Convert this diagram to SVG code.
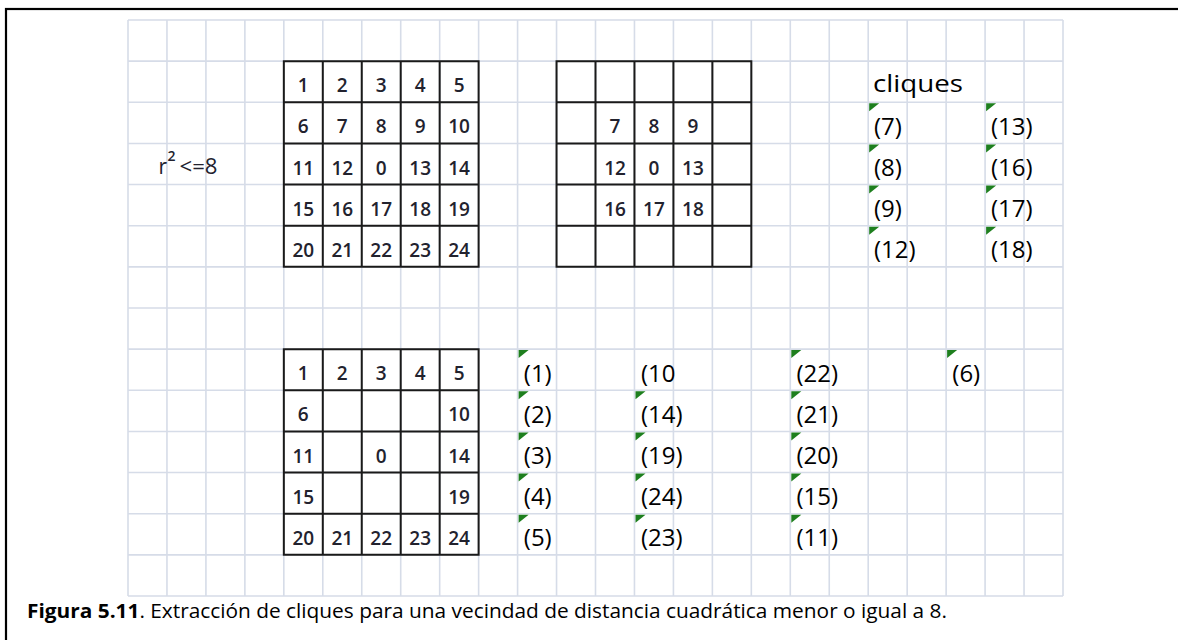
<svg xmlns="http://www.w3.org/2000/svg" xmlns:xlink="http://www.w3.org/1999/xlink" width="1178" height="640" viewBox="0 0 1178 640">
<style>
.frame{fill:none;stroke:#000;stroke-width:2.2}
.g{fill:none;stroke:#D6DCE8;stroke-width:1.6}
.b{fill:none;stroke:#1a1a1a;stroke-width:2}
.n{font-family:"Open Sans","Noto Sans",sans-serif;font-size:19px;font-weight:600;fill:#22222e;text-anchor:middle}
.c{font-family:"Open Sans","Noto Sans",sans-serif;font-size:24px;fill:#000}
.tri{fill:#1E7F1E}
.cap{font-family:"Open Sans","Noto Sans",sans-serif;font-size:20px;fill:#000}
</style>
<defs>
<path id="tri" class="tri" d="M0 0H10L0 8Z"/>
</defs>
<rect x="0" y="0" width="1178" height="640" fill="#fff"/>
<rect class="frame" x="6" y="9" width="1190" height="660"/>

<g id="grid">
<path class="g" d="M128 20V596M166.96 20V596M205.92 20V596M244.87 20V596M283.83 20V596M322.79 20V596M361.75 20V596M400.71 20V596M439.67 20V596M478.62 20V596M517.58 20V596M556.54 20V596M595.5 20V596M634.46 20V596M673.42 20V596M712.38 20V596M751.33 20V596M790.29 20V596M829.25 20V596M868.21 20V596M907.17 20V596M946.13 20V596M985.08 20V596M1024.04 20V596M1063 20V596"/>
<path class="g" d="M128 20H1063M128 61.14H1063M128 102.29H1063M128 143.43H1063M128 184.57H1063M128 225.71H1063M128 266.86H1063M128 308H1063M128 349.14H1063M128 390.29H1063M128 431.43H1063M128 472.57H1063M128 513.71H1063M128 554.86H1063M128 596H1063"/>
</g>

<g id="label-r">
<text class="c" style="font-size:21px;fill:#22222e" x="158.5" y="174">r<tspan x="167.5" y="160.5" style="font-size:14px;font-weight:600">2</tspan><tspan x="179.5" y="174" textLength="38" lengthAdjust="spacingAndGlyphs">&lt;=8</tspan></text>
</g>

<g id="box-full">
<path class="b" d="M283.83 61.14H478.62V266.86H283.83ZM322.79 61.14V266.86M361.75 61.14V266.86M400.71 61.14V266.86M439.67 61.14V266.86M283.83 102.29H478.62M283.83 143.43H478.62M283.83 184.57H478.62M283.83 225.71H478.62"/>
<text class="n" x="303.3" y="92.3">1</text><text class="n" x="342.3" y="92.3">2</text><text class="n" x="381.2" y="92.3">3</text><text class="n" x="420.2" y="92.3">4</text><text class="n" x="459.1" y="92.3">5</text>
<text class="n" x="303.3" y="133.4">6</text><text class="n" x="342.3" y="133.4">7</text><text class="n" x="381.2" y="133.4">8</text><text class="n" x="420.2" y="133.4">9</text><text class="n" x="459.1" y="133.4">10</text>
<text class="n" x="303.3" y="174.6">11</text><text class="n" x="342.3" y="174.6">12</text><text class="n" x="381.2" y="174.6">0</text><text class="n" x="420.2" y="174.6">13</text><text class="n" x="459.1" y="174.6">14</text>
<text class="n" x="303.3" y="215.7">15</text><text class="n" x="342.3" y="215.7">16</text><text class="n" x="381.2" y="215.7">17</text><text class="n" x="420.2" y="215.7">18</text><text class="n" x="459.1" y="215.7">19</text>
<text class="n" x="303.3" y="256.9">20</text><text class="n" x="342.3" y="256.9">21</text><text class="n" x="381.2" y="256.9">22</text><text class="n" x="420.2" y="256.9">23</text><text class="n" x="459.1" y="256.9">24</text>
</g>

<g id="box-center">
<path class="b" d="M556.54 61.14H751.33V266.86H556.54ZM595.5 61.14V266.86M634.46 61.14V266.86M673.42 61.14V266.86M712.38 61.14V266.86M556.54 102.29H751.33M556.54 143.43H751.33M556.54 184.57H751.33M556.54 225.71H751.33"/>
<text class="n" x="615" y="133.4">7</text><text class="n" x="653.9" y="133.4">8</text><text class="n" x="692.9" y="133.4">9</text>
<text class="n" x="615" y="174.6">12</text><text class="n" x="653.9" y="174.6">0</text><text class="n" x="692.9" y="174.6">13</text>
<text class="n" x="615" y="215.7">16</text><text class="n" x="653.9" y="215.7">17</text><text class="n" x="692.9" y="215.7">18</text>
</g>

<g id="box-ring">
<path class="b" d="M283.83 349.14H478.62V554.86H283.83ZM322.79 349.14V554.86M361.75 349.14V554.86M400.71 349.14V554.86M439.67 349.14V554.86M283.83 390.29H478.62M283.83 431.43H478.62M283.83 472.57H478.62M283.83 513.71H478.62"/>
<text class="n" x="303.3" y="380.3">1</text><text class="n" x="342.3" y="380.3">2</text><text class="n" x="381.2" y="380.3">3</text><text class="n" x="420.2" y="380.3">4</text><text class="n" x="459.1" y="380.3">5</text>
<text class="n" x="303.3" y="421.4">6</text><text class="n" x="459.1" y="421.4">10</text>
<text class="n" x="303.3" y="462.6">11</text><text class="n" x="381.2" y="462.6">0</text><text class="n" x="459.1" y="462.6">14</text>
<text class="n" x="303.3" y="503.7">15</text><text class="n" x="459.1" y="503.7">19</text>
<text class="n" x="303.3" y="544.9">20</text><text class="n" x="342.3" y="544.9">21</text><text class="n" x="381.2" y="544.9">22</text><text class="n" x="420.2" y="544.9">23</text><text class="n" x="459.1" y="544.9">24</text>
</g>

<g id="cliques-center">
<text class="c" x="873" y="92.3" textLength="90" lengthAdjust="spacingAndGlyphs">cliques</text>
<use xlink:href="#tri" x="869.2" y="103.3"/><text class="c" x="874" y="135">(7)</text>
<use xlink:href="#tri" x="869.2" y="144.4"/><text class="c" x="874" y="176.1">(8)</text>
<use xlink:href="#tri" x="869.2" y="185.6"/><text class="c" x="874" y="217.3">(9)</text>
<use xlink:href="#tri" x="869.2" y="226.7"/><text class="c" x="874" y="258.4">(12)</text>
<use xlink:href="#tri" x="986.1" y="103.3"/><text class="c" x="991" y="135">(13)</text>
<use xlink:href="#tri" x="986.1" y="144.4"/><text class="c" x="991" y="176.1">(16)</text>
<use xlink:href="#tri" x="986.1" y="185.6"/><text class="c" x="991" y="217.3">(17)</text>
<use xlink:href="#tri" x="986.1" y="226.7"/><text class="c" x="991" y="258.4">(18)</text>
</g>

<g id="cliques-ring">
<use xlink:href="#tri" x="518.6" y="350.1"/><text class="c" x="523.8" y="381.7">(1)</text>
<use xlink:href="#tri" x="518.6" y="391.3"/><text class="c" x="523.8" y="422.9">(2)</text>
<use xlink:href="#tri" x="518.6" y="432.4"/><text class="c" x="523.8" y="464">(3)</text>
<use xlink:href="#tri" x="518.6" y="473.6"/><text class="c" x="523.8" y="505.2">(4)</text>
<use xlink:href="#tri" x="518.6" y="514.7"/><text class="c" x="523.8" y="546.3">(5)</text>
<text class="c" x="641" y="381.7">(10</text>
<use xlink:href="#tri" x="635.5" y="391.3"/><text class="c" x="641" y="422.9">(14)</text>
<use xlink:href="#tri" x="635.5" y="432.4"/><text class="c" x="641" y="464">(19)</text>
<use xlink:href="#tri" x="635.5" y="473.6"/><text class="c" x="641" y="505.2">(24)</text>
<use xlink:href="#tri" x="635.5" y="514.7"/><text class="c" x="641" y="546.3">(23)</text>
<use xlink:href="#tri" x="791.3" y="350.1"/><text class="c" x="796.5" y="381.7">(22)</text>
<use xlink:href="#tri" x="791.3" y="391.3"/><text class="c" x="796.5" y="422.9">(21)</text>
<use xlink:href="#tri" x="791.3" y="432.4"/><text class="c" x="796.5" y="464">(20)</text>
<use xlink:href="#tri" x="791.3" y="473.6"/><text class="c" x="796.5" y="505.2">(15)</text>
<use xlink:href="#tri" x="791.3" y="514.7"/><text class="c" x="796.5" y="546.3">(11)</text>
<use xlink:href="#tri" x="947.1" y="350.1"/><text class="c" x="952.3" y="381.7">(6)</text>
</g>

<g id="connectors"/>

<g id="caption">
<text class="cap" x="27" y="618.3" textLength="920" lengthAdjust="spacingAndGlyphs"><tspan font-weight="bold">Figura 5.11</tspan>. Extracción de cliques para una vecindad de distancia cuadrática menor o igual a 8.</text>
</g>
</svg>
